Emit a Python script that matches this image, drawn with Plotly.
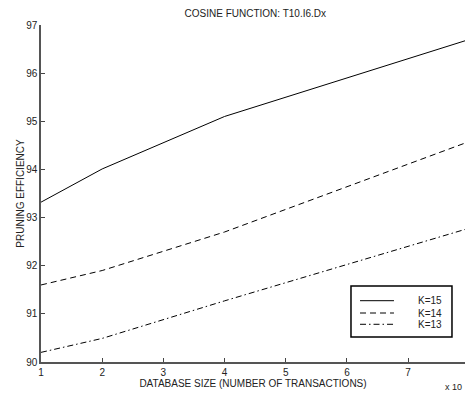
import plotly.graph_objects as go

# Database size (units of 10^5 transactions)
db_size = [1, 2, 4, 8]
k15 = [93.32, 94.01, 95.10, 96.70]
k14 = [91.60, 91.90, 92.70, 94.58]
k13 = [90.20, 90.49, 91.27, 92.78]

names = ["K=15", "K=14", "K=13"]
values = [k15, k14, k13]
dashes = ["solid", "6px,4px", "6px,3px,1.5px,3px"]

FONT = "Liberation Sans, Arial, sans-serif"
TXT = "#222222"

fig = go.Figure()
for name, vals, dash in zip(names, values, dashes):
    fig.add_trace(go.Scatter(
        x=db_size, y=vals, mode="lines", name=name,
        line=dict(color="black", width=1, dash=dash),
    ))

fig.update_layout(
    width=465, height=395,
    margin=dict(l=41, r=0, t=25, b=33),
    paper_bgcolor="white", plot_bgcolor="white",
    font=dict(family=FONT, size=10, color=TXT),
    title=dict(text="COSINE FUNCTION: T10.I6.Dx", x=0.549, xanchor="center",
               y=1 - 13 / 395, yanchor="middle", font=dict(size=10, color=TXT)),
    showlegend=False,
    xaxis=dict(range=[1, 7.93], tickvals=[1, 2, 3, 4, 5, 6, 7],
               ticks="inside", ticklen=4, tickcolor="#444", tickwidth=1,
               showline=True, linecolor="#555", linewidth=1.5, mirror=False,
               showgrid=False, zeroline=False,
               title=dict(text="DATABASE SIZE (NUMBER OF TRANSACTIONS)", standoff=0,
                          font=dict(size=10, color=TXT))),
    yaxis=dict(range=[90, 97], tickvals=[90, 91, 92, 93, 94, 95, 96, 97],
               ticks="inside", ticklen=4, tickcolor="#444", tickwidth=1,
               showline=True, linecolor="#555", linewidth=1.5, mirror=False,
               showgrid=False, zeroline=False,
               title=dict(text="PRUNING EFFICIENCY", standoff=0,
                          font=dict(size=10, color=TXT))),
)

# exponent note at bottom-right
fig.add_annotation(text="x 10", xref="paper", yref="paper", x=0.9976, y=-0.0742,
                   xanchor="right", yanchor="middle", showarrow=False,
                   font=dict(size=9, color=TXT))

# compact boxed legend (paper coordinates)
fig.add_shape(type="rect", xref="paper", yref="paper",
              x0=0.7311, x1=0.9693, y0=0.0742, y1=0.2255,
              line=dict(color="black", width=1.5), fillcolor="white", layer="above")
row_y = [0.1819, 0.1454, 0.1119]
for name, dash, yy in zip(names, dashes, row_y):
    fig.add_shape(type="line", xref="paper", yref="paper",
                  x0=0.7524, x1=0.8325, y0=yy, y1=yy,
                  line=dict(color="black", width=1, dash=dash), layer="above")
    fig.add_annotation(text=name, xref="paper", yref="paper", x=0.8844, y=yy,
                       xanchor="left", yanchor="middle", showarrow=False,
                       font=dict(size=10, color=TXT))

fig.write_html("out.html", config={"displayModeBar": False},
               post_script="document.body.style.margin='0';")
